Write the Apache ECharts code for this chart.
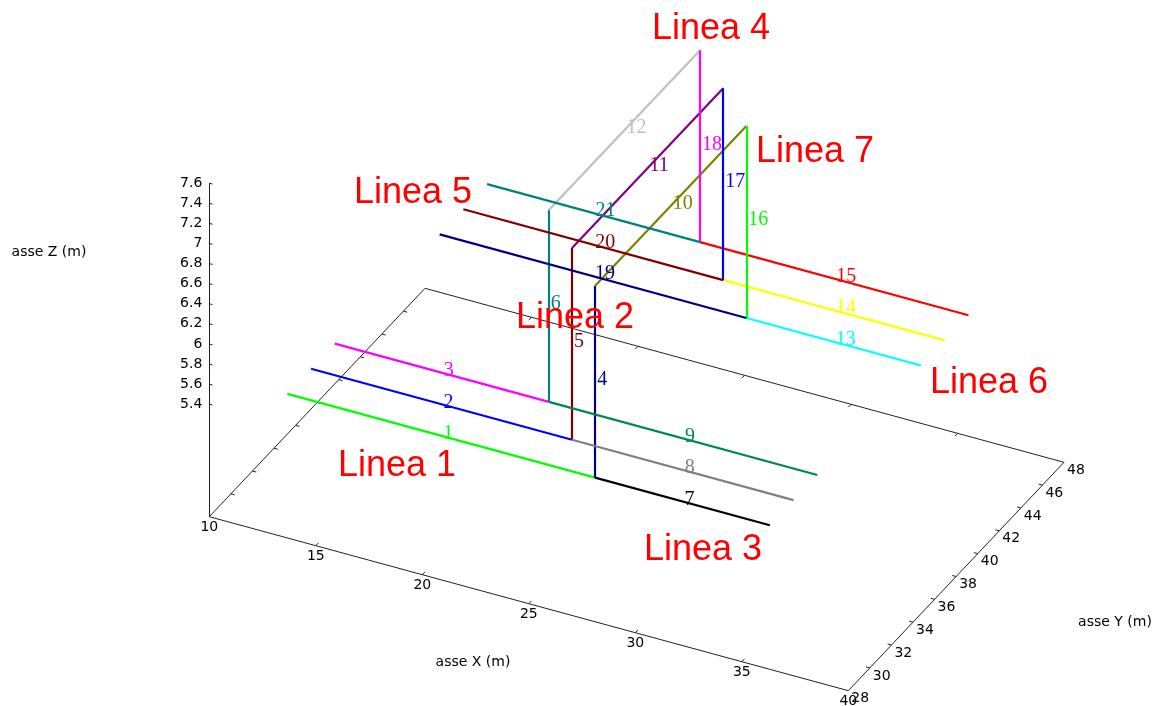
<!DOCTYPE html>
<html>
<head>
<meta charset="utf-8">
<script src="https://cdn.jsdelivr.net/npm/echarts@6/dist/echarts.min.js"></script>
<style>
html,body{margin:0;padding:0;background:#fff;}
#chart{width:1158px;height:706px;}
</style>
</head>
<body>
<div id="chart"></div>
<script>
// tick values of the three axes
var xTicks = [10, 15, 20, 25, 30, 35, 40];
var yTicks = [28, 30, 32, 34, 36, 38, 40, 42, 44, 46, 48];
var zTicks = [5.4, 5.6, 5.8, 6, 6.2, 6.4, 6.6, 6.8, 7, 7.2, 7.4, 7.6];

// segments of the frame: start and end points [x, y, z] in metres
var segNames = ['1','2','3','4','5','6','7','8','9','10','11','12','13','14','15','16','17','18','19','20','21'];
var segFrom = [
	[12.55, 30.2, 5.4], [12.55, 32.4, 5.4], [12.55, 34.6, 5.4],
	[27.0, 30.2, 5.4], [24.8, 32.4, 5.4], [22.6, 34.6, 5.4],
	[27.0, 30.2, 5.4], [24.8, 32.4, 5.4], [22.6, 34.6, 5.4],
	[27.0, 30.2, 7.31], [24.8, 32.4, 7.31], [22.6, 34.6, 7.31],
	[34.1, 30.2, 7.4], [31.9, 32.4, 7.4], [29.7, 34.6, 7.4],
	[34.1, 30.2, 7.4], [31.9, 32.4, 7.4], [29.7, 34.6, 7.4],
	[19.7, 30.2, 7.4], [19.7, 32.4, 7.4], [19.7, 34.6, 7.4]
];
var segTo = [
	[27.0, 30.2, 5.4], [24.8, 32.4, 5.4], [22.6, 34.6, 5.4],
	[27.0, 30.2, 7.31], [24.8, 32.4, 7.31], [22.6, 34.6, 7.31],
	[35.2, 30.2, 5.4], [35.2, 32.4, 5.4], [35.2, 34.6, 5.4],
	[34.1, 30.2, 9.31], [31.9, 32.4, 9.31], [29.7, 34.6, 9.31],
	[42.3, 30.2, 7.4], [42.3, 32.4, 7.4], [42.3, 34.6, 7.4],
	[34.1, 30.2, 9.31], [31.9, 32.4, 9.31], [29.7, 34.6, 9.31],
	[34.1, 30.2, 7.4], [31.9, 32.4, 7.4], [29.7, 34.6, 7.4]
];
var segColors = ['#00ff00','#0000ff','#ff00ff','#000080','#800000','#008080',
	'#000000','#808080','#008a48','#808000','#800080','#c0c0c0',
	'#00ffff','#ffff00','#ff0000','#00ff00','#0000ff','#ff00ff',
	'#000080','#800000','#008080'];

var lineaNames = ['Linea 1','Linea 2','Linea 3','Linea 4','Linea 5','Linea 6','Linea 7'];

// view of the 3D box
var xMin = 10, xMax = 40, yMin = 28, yMax = 48, zMax = 7.6;
var zBase = 4.28; // base plane (ticslevel under 5.4)
var O = [209.3, 516.7];   // where (xMin, yMin, zBase) lands on the view plane
var EX = [21.3, 5.8];     // one metre along x
var EY = [10.785, -11.42];// one metre along y
var EZ = [0, -100.45];    // one metre along z

function proj(p){
	var dx = p[0]-xMin, dy = p[1]-yMin, dz = p[2]-zBase;
	return [O[0]+dx*EX[0]+dy*EY[0]+dz*EZ[0], O[1]+dx*EX[1]+dy*EY[1]+dz*EZ[1]];
}
function seg(a,b){ return {coords:[proj(a), proj(b)]}; }

// box edges and tick marks
var boxData = [
	seg([xMin,yMin,zBase],[xMax,yMin,zBase]),
	seg([xMax,yMin,zBase],[xMax,yMax,zBase]),
	seg([xMax,yMax,zBase],[xMin,yMax,zBase]),
	seg([xMin,yMax,zBase],[xMin,yMin,zBase]),
	seg([xMin,yMin,zBase],[xMin,yMin,zMax])
];
var i;
for(i=1;i<xTicks.length-1;i++){
	boxData.push(seg([xTicks[i],yMin,zBase],[xTicks[i],yMin+0.25,zBase]));
	boxData.push(seg([xTicks[i],yMax,zBase],[xTicks[i],yMax-0.25,zBase]));
}
for(i=1;i<yTicks.length-1;i++){
	boxData.push(seg([xMax,yTicks[i],zBase],[xMax-0.18,yTicks[i],zBase]));
	boxData.push(seg([xMin,yTicks[i],zBase],[xMin+0.18,yTicks[i],zBase]));
}
for(i=0;i<zTicks.length;i++){
	boxData.push(seg([xMin,yMin,zTicks[i]],[xMin+0.15,yMin,zTicks[i]]));
}

var segData = [], segLabels = [];
for(i=0;i<segNames.length;i++){
	var a = segFrom[i], b = segTo[i];
	segData.push({coords:[proj(a), proj(b)], lineStyle:{color:segColors[i]}});
	segLabels.push({
		name: segNames[i],
		value: proj([(a[0]+b[0])/2, (a[1]+b[1])/2, (a[2]+b[2])/2]),
		label: {color: segColors[i]}
	});
}

var xLab = xTicks.map(function(v){ return {name:String(v), value:proj([v,yMin,zBase])}; });
var yLab = yTicks.map(function(v){ return {name:String(v), value:proj([xMax,v,zBase])}; });
var zLab = zTicks.map(function(v){ return {name:String(v), value:proj([xMin,yMin,v])}; });

var tickFont = {fontFamily:'DejaVu Sans', fontSize:14, color:'#000'};

var chart = echarts.init(document.getElementById('chart'));
var lineaPos = [[397,466],[575,318],[703,550],[711,29],[413,193],[989,383],[815,152]];
var graphics = lineaNames.map(function(t,k){
	return {type:'text', x:lineaPos[k][0], y:lineaPos[k][1], z:100,
		style:{text:t, fill:'#ff0000', font:'36px "Liberation Sans"', textAlign:'center', textVerticalAlign:'middle', align:'center', verticalAlign:'middle'}};
});
[['asse X (m)',473,662],['asse Y (m)',1115,622],['asse Z (m)',49,252]].forEach(function(t){
	graphics.push({type:'text', x:t[1], y:t[2],
		style:{text:t[0], fill:'#000', font:'14px "DejaVu Sans"', textAlign:'center', textVerticalAlign:'middle', align:'center', verticalAlign:'middle'}});
});

var option = {
	animation:false,
	backgroundColor:'#ffffff',
	grid:{left:0,right:0,top:0,bottom:0},
	xAxis:{type:'value', min:0, max:1158, show:false},
	yAxis:{type:'value', min:0, max:706, inverse:true, show:false},
	graphic:graphics,
	series:[
		{type:'lines', coordinateSystem:'cartesian2d', silent:true,
			lineStyle:{color:'#222', width:1, opacity:1}, data:boxData},
		{type:'lines', coordinateSystem:'cartesian2d', silent:true,
			lineStyle:{width:2.2, opacity:1}, data:segData},
		{type:'scatter', symbolSize:0, silent:true, data:segLabels, itemStyle:{opacity:1},
			label:{show:true, formatter:'{b}', position:'right', distance:2, offset:[0,-2],
				fontFamily:'Liberation Serif', fontSize:20, opacity:1}},
		{type:'scatter', symbolSize:0, silent:true, data:xLab, itemStyle:{opacity:1},
			label:Object.assign({show:true, formatter:'{b}', position:'inside', offset:[0,11]}, tickFont)},
		{type:'scatter', symbolSize:0, silent:true, data:yLab, itemStyle:{opacity:1},
			label:Object.assign({show:true, formatter:'{b}', position:'right', distance:3, offset:[0,8]}, tickFont)},
		{type:'scatter', symbolSize:0, silent:true, data:zLab, itemStyle:{opacity:1},
			label:Object.assign({show:true, formatter:'{b}', position:'left', distance:7}, tickFont)}
	]
};
chart.setOption(option);
</script>
</body>
</html>
